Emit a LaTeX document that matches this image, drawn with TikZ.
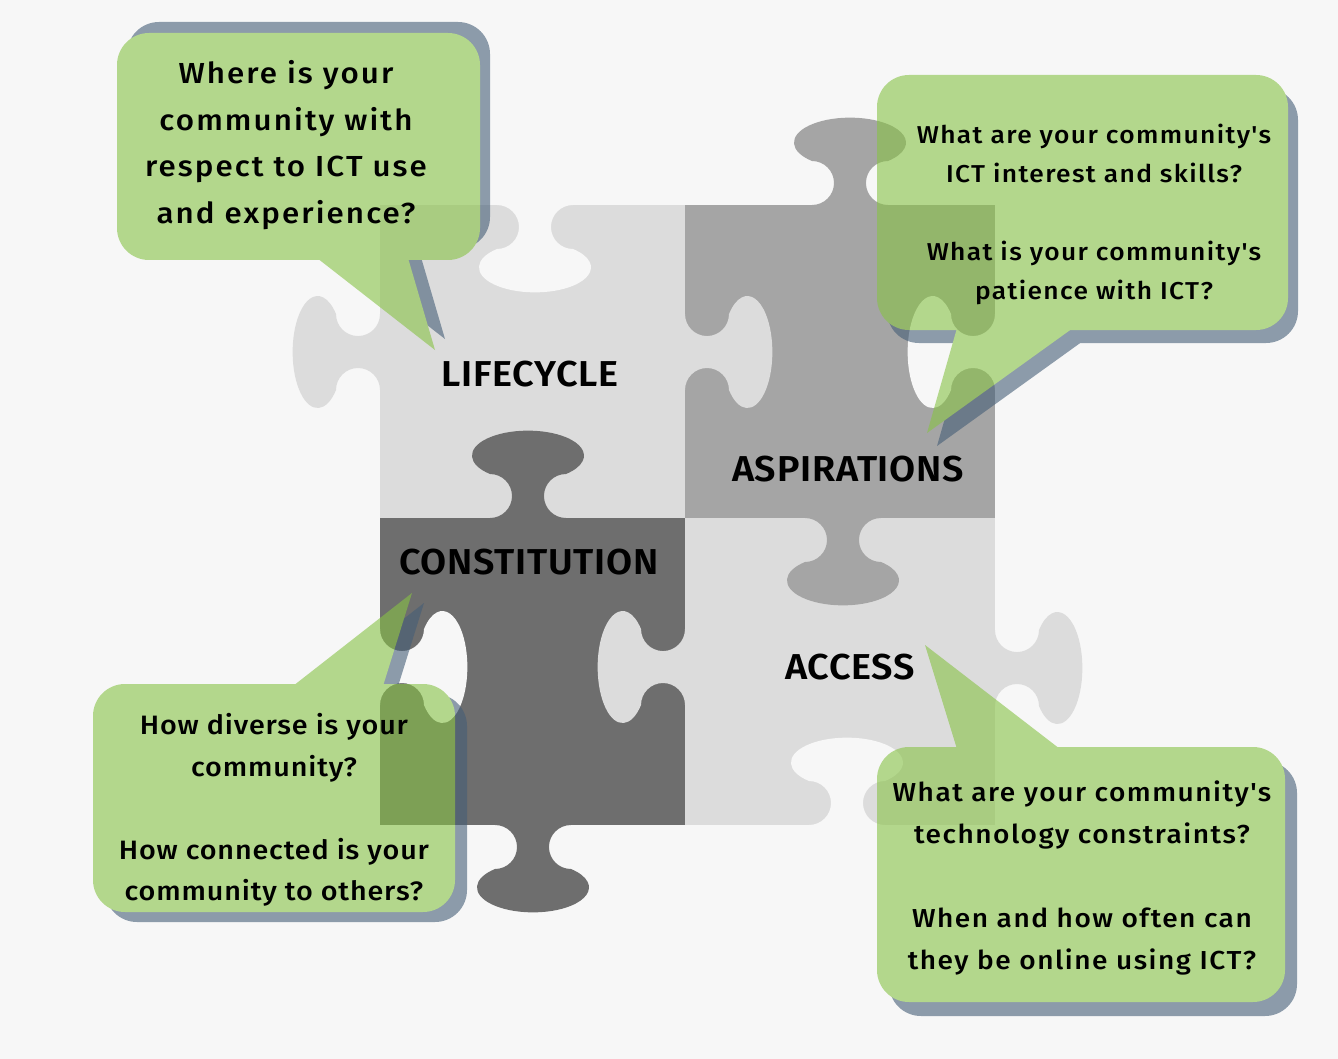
\documentclass[tikz,border=0pt]{standalone}
\usepackage{fontspec}
\setmainfont{Fira Sans}[UprightFont={* Medium}, BoldFont={* SemiBold}, Ligatures=TeXOff]
\newfontfamily\lblfont{Fira Sans SemiBold}[FakeStretch=1.05, LetterSpace=2, Ligatures=TeXOff]
\newfontfamily\cfA{Fira Sans Medium}[FakeStretch=1.08, LetterSpace=7.2, Ligatures=TeXOff]
\newfontfamily\cfB{Fira Sans Medium}[FakeStretch=1.08, LetterSpace=5.6, Ligatures=TeXOff]
\newfontfamily\cfC{Fira Sans Medium}[FakeStretch=1.08, LetterSpace=3.2, Ligatures=TeXOff]
\newfontfamily\cfD{Fira Sans Medium}[FakeStretch=1.08, LetterSpace=5.8, Ligatures=TeXOff]
\definecolor{bgc}{RGB}{247,247,247}
\definecolor{lightp}{RGB}{220,220,220}
\definecolor{medp}{RGB}{165,165,165}
\definecolor{darkp}{RGB}{110,110,110}
\definecolor{gc}{RGB}{135,194,69}
\definecolor{shc}{RGB}{69,94,119}
\tikzset{
  tabup/.style={x={(0.5pt,0pt)},y={(0pt,0.5pt)}},
  tabdown/.style={x={(0.5pt,0pt)},y={(0pt,-0.5pt)}},
  tableft/.style={x={(0pt,0.5pt)},y={(-0.5pt,0pt)}},
  tabright/.style={x={(0pt,0.5pt)},y={(0.5pt,0pt)}},
  lbl/.style={font=\lblfont\fontsize{18}{20}\selectfont, text=black, inner sep=0pt},
  ctext/.style={align=center, text=black, inner sep=0pt},
  bubblegrp/.style={transparency group, opacity=0.6}
}
\newcommand\puzzletab[3]{\fill[#3,shift={(#1)},#2] (-38,0)
  arc[start angle=-90,end angle=90,radius=22]
  arc[start angle=227.3,end angle=-47.3,x radius=56,y radius=25]
  arc[start angle=90,end angle=270,radius=22] -- cycle;}
\newcommand\bubOne[1]{\fill[#1,rounded corners=16] (117,33) rectangle (480,260);
  \fill[#1] (317,258) -- (408,258) -- (435,350) -- cycle;}
\newcommand\bubTwo[1]{\fill[#1,rounded corners=16] (877,75) rectangle (1288,330);
  \fill[#1] (957,328) -- (1073,328) -- (927,433) -- cycle;}
\newcommand\bubThree[1]{\fill[#1,rounded corners=16] (93,684) rectangle (455,912);
  \fill[#1] (293,686) -- (383,686) -- (412,593) -- cycle;}
\newcommand\bubFour[1]{\fill[#1,rounded corners=16] (877,747) rectangle (1285,1002);
  \fill[#1] (957,749) -- (1060,749) -- (925,645) -- cycle;}
\begin{document}
\begin{tikzpicture}[x=0.5pt,y=-0.5pt]
\useasboundingbox (0,0) rectangle (1338,1059);
\fill[bgc] (0,0) rectangle (1338,1059);
% puzzle squares
\fill[lightp] (380,205) rectangle (685,518);
\fill[medp] (685,205) rectangle (995,518);
\fill[darkp] (380,518) rectangle (685,825);
\fill[lightp] (685,518) rectangle (995,825);
% tabs
\puzzletab{380,352}{tableft}{lightp}
\puzzletab{685,352}{tabright}{lightp}
\puzzletab{850,205}{tabup}{medp}
\puzzletab{843,518}{tabdown}{medp}
\puzzletab{528,518}{tabup}{darkp}
\puzzletab{533,825}{tabdown}{darkp}
\puzzletab{685,667}{tableft}{lightp}
\puzzletab{995,668}{tabright}{lightp}
% outer notches
\puzzletab{535,205}{tabdown}{bgc}
\puzzletab{995,352}{tableft}{bgc}
\puzzletab{380,667}{tabright}{bgc}
\puzzletab{847,825}{tabup}{bgc}
% labels
\node[lbl] (lc) at (530,374) {LIFECYCLE};
\node[lbl] (as) at (848,469) {ASPIRATIONS};
\node[lbl] (co) at (529,562) {CONSTITUTION};
\node[lbl] (ac) at (850,667) {ACCESS};
% callouts with shadows
\begin{scope}[bubblegrp]
  \begin{scope}[shift={(10,-11)}]\bubOne{shc}\end{scope}
  \bubOne{gc}
\end{scope}
\begin{scope}[bubblegrp]
  \begin{scope}[shift={(10,13)}]\bubTwo{shc}\end{scope}
  \bubTwo{gc}
\end{scope}
\begin{scope}[bubblegrp]
  \begin{scope}[shift={(12,10)}]\bubThree{shc}\end{scope}
  \bubThree{gc}
\end{scope}
\begin{scope}[bubblegrp]
  \begin{scope}[shift={(12,14)}]\bubFour{shc}\end{scope}
  \bubFour{gc}
\end{scope}
% callout texts
\node[ctext, font=\cfA\fontsize{14.5}{23.25}\selectfont] (t1) at (286,145)
  {Where is your\\community with\\respect to ICT use\\and experience?};
\node[ctext, font=\cfB\fontsize{12.2}{19.5}\selectfont] (t2) at (1094,214)
  {What are your community's\\ICT interest and skills?\\[19.5pt]What is your community's\\patience with ICT?};
\node[ctext, font=\cfC\fontsize{13.3}{20.75}\selectfont] (t3) at (274,810)
  {How diverse is your\\community?\\[20.75pt]How connected is your\\community to others?};
\node[ctext, font=\cfD\fontsize{13}{21}\selectfont] (t4) at (1082,878)
  {What are your community's\\technology constraints?\\[21pt]When and how often can\\they be online using ICT?};
\end{tikzpicture}
\end{document}
